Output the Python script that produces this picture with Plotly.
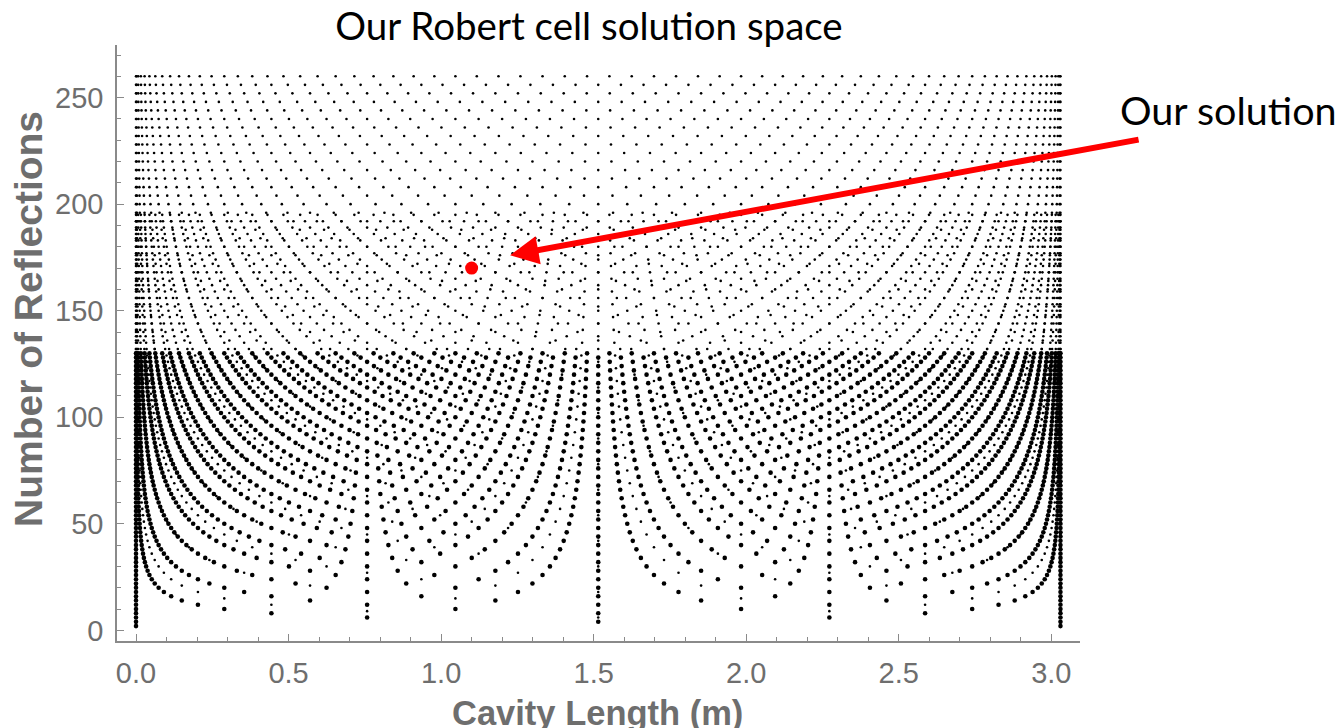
import numpy as np
import plotly.graph_objects as go

# Re-entrant solutions of a two-mirror cell: cavity length d = R(1 - cos(pi*M/n))
MIRROR_RADIUS = 1.515            # mirror radius of curvature (m)
PASS_COUNTS = list(range(1, 66)) # n
LARGE_FACTORS = [2]              # reflections = 2n
SMALL_FACTORS = [3, 4]           # reflections = 3n, 4n
OUR_SOLUTION_LENGTH = [1.1]
OUR_SOLUTION_REFLECTIONS = [170]

X_TICKS = [0.0, 0.5, 1.0, 1.5, 2.0, 2.5, 3.0]
Y_TICKS = [0, 50, 100, 150, 200, 250]


def solutions(factors):
    xs, ys = [], []
    for f in factors:
        for n in PASS_COUNTS:
            m = np.arange(0, n + 1)
            xs.append(MIRROR_RADIUS * (1 - np.cos(np.pi * m / n)))
            ys.append(np.full(m.shape, f * n))
    return np.concatenate(xs), np.concatenate(ys)


xs_s, ys_s = solutions(SMALL_FACTORS)
xs_l, ys_l = solutions(LARGE_FACTORS)

fig = go.Figure()
fig.add_trace(go.Scatter(x=xs_s, y=ys_s, mode="markers",
                         marker=dict(size=2.6, color="black"),
                         hoverinfo="skip", showlegend=False))
fig.add_trace(go.Scatter(x=xs_l, y=ys_l, mode="markers",
                         marker=dict(size=4.6, color="black"),
                         hoverinfo="skip", showlegend=False))
fig.add_trace(go.Scatter(x=OUR_SOLUTION_LENGTH, y=OUR_SOLUTION_REFLECTIONS,
                         mode="markers",
                         marker=dict(size=13, color="#ff0000"),
                         hoverinfo="skip", showlegend=False))

axis_grey = "#8a8a8a"
label_grey = "#6e6e6e"
tick_font = dict(family="Liberation Sans, Arial, sans-serif", size=29, color=label_grey)

fig.update_xaxes(range=[-0.0623, 3.094], tickvals=X_TICKS,
                 ticktext=[f"{v:.1f}" for v in X_TICKS],
                 showgrid=False, zeroline=False, showline=True,
                 linecolor=axis_grey, linewidth=1.5,
                 ticks="inside", ticklen=7, tickwidth=1.2, tickcolor=axis_grey,
                 minor=dict(dtick=0.1, tick0=0, ticks="inside", ticklen=4,
                            tickcolor=axis_grey, showgrid=False),
                 tickfont=tick_font, ticklabelstandoff=5)
fig.update_yaxes(range=[-5, 274.7], tickvals=Y_TICKS,
                 showgrid=False, zeroline=False, showline=True,
                 linecolor=axis_grey, linewidth=1.5,
                 ticks="inside", ticklen=7, tickwidth=1.2, tickcolor=axis_grey,
                 minor=dict(dtick=10, tick0=0, ticks="inside", ticklen=4,
                            tickcolor=axis_grey, showgrid=False),
                 tickfont=tick_font, ticklabelstandoff=6)

axis_title_family = "Liberation Sans, Arial, sans-serif"

fig.update_layout(
    width=1339, height=728,
    margin=dict(l=117, r=259, t=45, b=87),
    paper_bgcolor="white", plot_bgcolor="white",
    title=dict(text="Our Robert cell solution space",
               font=dict(family="Lato, sans-serif", size=38.5, color="black"),
               x=589 / 1339, xref="container", xanchor="center",
               y=1 - 27 / 728, yref="container", yanchor="middle"),
    annotations=[
        dict(text="Number of Reflections", textangle=-90,
             font=dict(family=axis_title_family, size=39, color=label_grey,
                       weight="bold"),
             xref="paper", yref="paper", x=-(117 - 29) / 963, y=(641 - 319) / 596,
             xanchor="center", yanchor="middle", showarrow=False),
        dict(text="Cavity Length (m)",
             font=dict(family=axis_title_family, size=34.5, color=label_grey,
                       weight="bold"),
             xref="paper", yref="paper", x=(597 - 117) / 963,
             y=-(713 - 641) / 596,
             xanchor="center", yanchor="middle", showarrow=False),
        dict(text="Our solution",
             font=dict(family="Lato, sans-serif", size=39.5, color="black"),
             xref="paper", yref="paper",
             x=(1228 - 117) / 963, y=(641 - 110) / 596,
             xanchor="center", yanchor="middle", showarrow=False),
        dict(text="", x=1.226, y=176, xref="x", yref="y",
             ax=630, ay=-116, axref="pixel", ayref="pixel",
             showarrow=True, arrowhead=2, arrowsize=0.95, arrowwidth=6,
             arrowcolor="#ff0000", standoff=0),
    ],
)

fig.write_html("out.html")
